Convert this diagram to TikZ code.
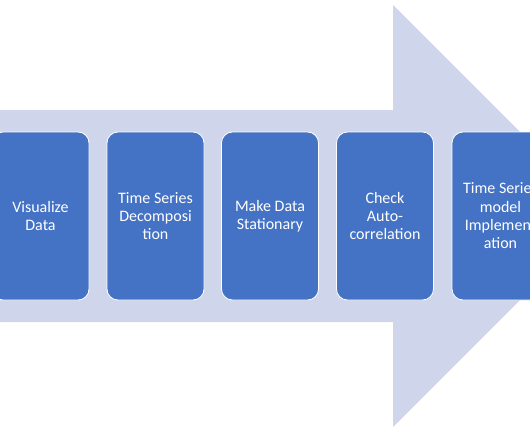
\documentclass[tikz,border=0pt]{standalone}
\usepackage{fontspec}
\setmainfont{Carlito}
\definecolor{arrowfill}{HTML}{CFD5EA}
\definecolor{boxfill}{HTML}{4472C4}
\begin{document}
\begin{tikzpicture}[x=1pt,y=-1pt,
  stepbox/.style={draw=white,line width=0.8pt,fill=boxfill,rounded corners=11pt,
    minimum width=97pt,minimum height=168pt,inner sep=0pt,anchor=center,
    text=white,align=center,font=\fontsize{16}{18.3}\selectfont}]
\useasboundingbox (0,0) rectangle (530,442);
\fill[arrowfill] (-20,110) -- (393,110) -- (393,5) -- (604,216) -- (393,427) -- (393,322) -- (-20,322) -- cycle;
\node[stepbox] (b1) at (40.5,216) {Visualize\\Data};
\node[stepbox] (b2) at (155.5,216) {Time Series\\Decomposi\\tion};
\node[stepbox] (b3) at (270,216) {Make Data\\Stationary};
\node[stepbox] (b4) at (385,216) {Check\\Auto-\\correlation};
\node[stepbox] (b5) at (500.5,216) {Time Series\\model\\Implement\\ation};
\end{tikzpicture}
\end{document}
